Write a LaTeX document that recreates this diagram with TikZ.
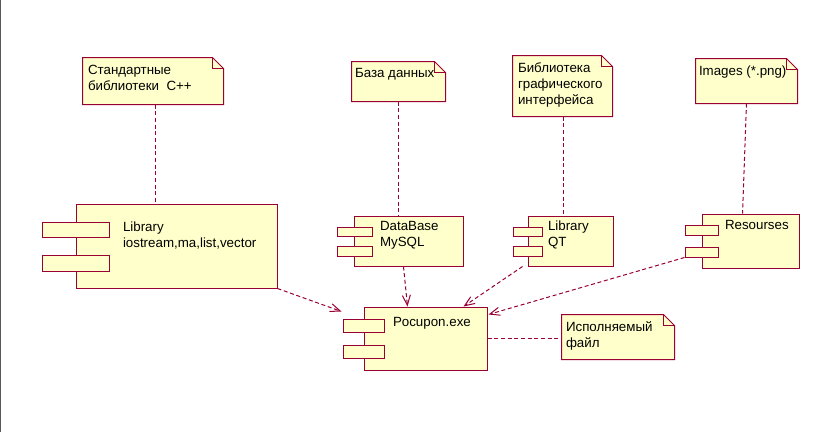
\documentclass[tikz,border=0pt]{standalone}
\usepackage{fontspec}
\setmainfont{Liberation Sans}
\usetikzlibrary{arrows.meta,fit}
\definecolor{rosered}{RGB}{153,0,51}
\definecolor{rosefill}{RGB}{255,255,204}
\tikzset{
    compbody/.style={draw=rosered, fill=rosefill, inner sep=0pt},
    port/.style={draw=rosered, fill=rosefill, inner sep=0pt},
    notebox/.style={inner sep=0pt},
    notefold/.style={draw=rosered, fill=rosefill},
    txt/.style={anchor=north west, inner sep=0pt, align=left, font=\fontsize{10}{12}\selectfont},
    dep/.style={draw=rosered, dash pattern=on 3pt off 2pt},
    uses/.style={dep, -{Straight Barb[length=7.5pt,width=6pt]}}
}
\begin{document}
\begin{tikzpicture}[x=0.75pt, y=-0.75pt, line width=0.75pt]
        \useasboundingbox (0,0) rectangle (834,432);
        \draw[gray!70!black] (0.5,0) -- (0.5,432);
        
        % notes
        \node[notebox, fit={(83,58) (223,104)}] (nstd) {};
        \node[notebox, fit={(352,62) (445,101)}] (ndb) {};
        \node[notebox, fit={(513,56) (612,116)}] (ngui) {};
        \node[notebox, fit={(696,59) (797,103)}] (nimg) {};
        \node[notebox, fit={(562,315) (674,359)}] (nexe) {};
        \foreach \n in {nstd, ndb, ngui, nimg, nexe} {
            \filldraw[notefold] (\n.north west) -- ([shift={(-11,0)}]\n.north east) -- ([shift={(0,11)}]\n.north east) -- (\n.south east) -- (\n.south west) -- cycle;
            \draw[rosered] ([shift={(-11,0)}]\n.north east) |- ([shift={(0,11)}]\n.north east);
        }
        \node[txt] (nstd-t) at ([shift={(5,7)}]nstd.north west) {Стандартные\\библиотеки\ \ C++};
        \node[txt] (ndb-t) at ([shift={(3,6)}]ndb.north west) {База данных};
        \node[txt] (ngui-t) at ([shift={(5,7)}]ngui.north west) {Библиотека\\графического\\интерфейса};
        \node[txt] (nimg-t) at ([shift={(3,7)}]nimg.north west) {Images (*.png)};
        \node[txt] (nexe-t) at ([shift={(4,7)}]nexe.north west) {Исполняемый\\файл};
        
        % components
        \node[compbody, fit={(76,204) (277,288)}] (lib) {};
        \node[port, fit={(42,222) (109,237)}] (lib-p1) {};
        \node[port, fit={(42,255) (109,271)}] (lib-p2) {};
        \node[txt] (lib-t) at ([shift={(47,18)}]lib.north west) {Library\\iostream,ma,list,vector};
        
        \node[compbody, fit={(354,216) (463,266)}] (db) {};
        \node[port, fit={(337,227) (372,236)}] (db-p1) {};
        \node[port, fit={(337,246) (372,256)}] (db-p2) {};
        \node[txt] (db-t) at ([shift={(26,5)}]db.north west) {DataBase\\MySQL};
        
        \node[compbody, fit={(528,216) (613,266)}] (qt) {};
        \node[port, fit={(513,227) (542,236)}] (qt-p1) {};
        \node[port, fit={(513,246) (542,256)}] (qt-p2) {};
        \node[txt] (qt-t) at ([shift={(20,5)}]qt.north west) {Library\\QT};
        
        \node[compbody, fit={(702,214) (799,268)}] (res) {};
        \node[port, fit={(685,225) (718,235)}] (res-p1) {};
        \node[port, fit={(685,247) (718,257)}] (res-p2) {};
        \node[txt] (res-t) at ([shift={(23,6)}]res.north west) {Resourses};
        
        \node[compbody, fit={(364,307) (487,370)}] (exe) {};
        \node[port, fit={(343,319) (384,332)}] (exe-p1) {};
        \node[port, fit={(343,345) (384,358)}] (exe-p2) {};
        \node[txt] (exe-t) at ([shift={(29,10)}]exe.north west) {Pocupon.exe};
        
        % note links
        \draw[dep] ([shift={(2,0)}]nstd.south) -- ([shift={(2,0)}]nstd.south |- lib.north);
        \draw[dep] (ndb.south) -- (ndb.south |- db.north);
        \draw[dep] ([shift={(1,0)}]ngui.south) -- ([shift={(1,0)}]ngui.south |- qt.north);
        \draw[dep] (nimg.south) -- ([shift={(-4,0)}]nimg.south |- res.north);
        \draw[dep] (exe.east) -- (exe.east -| nexe.west);
        
        % dependencies
        \draw[uses] (lib.south east) -- ([shift={(-1,-7)}]exe-p1.north west);
        \draw[uses] ([shift={(-5,0)}]db.south) -- ([shift={(-18,0)}]exe.north);
        \draw[uses] ([shift={(-5,0)}]qt.south west) -- ([shift={(-24,0)}]exe.north east);
        \draw[uses] (res-p2.south west) -- ([shift={(1,8)}]exe.north east);
        
    \end{tikzpicture}
\end{document}
